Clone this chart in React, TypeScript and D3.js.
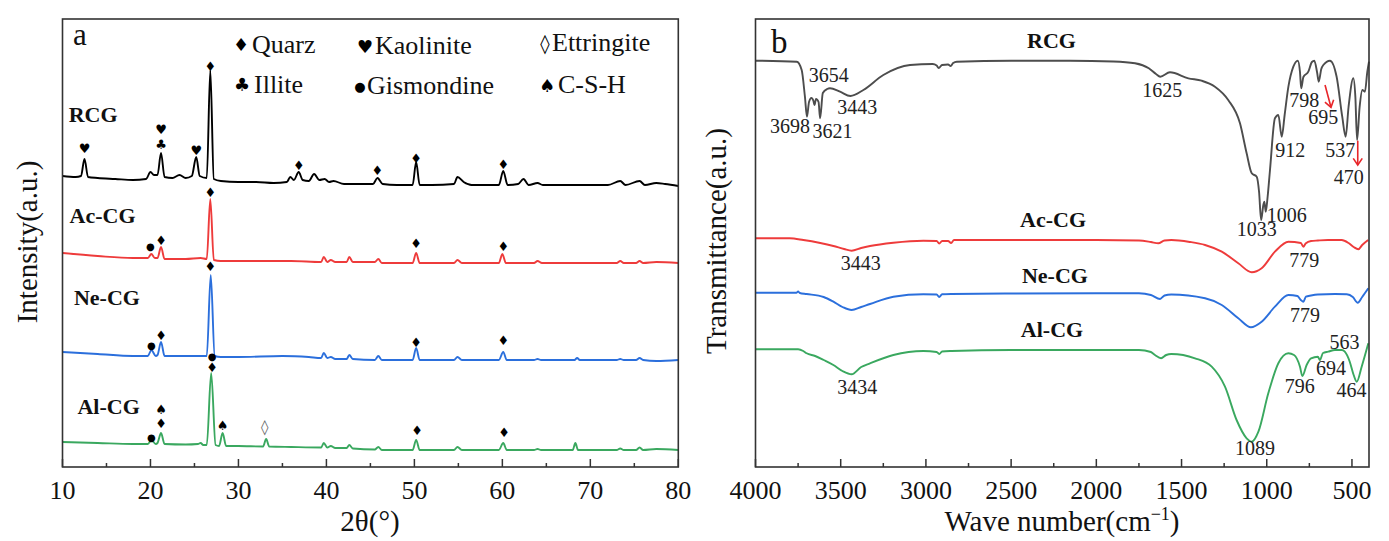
import React from 'react';
import * as d3 from 'd3';

type P = [number, number];

// ---------- XRD (panel a): [2θ, intensity a.u. incl. stacking offset] ----------
const xrdRCG: P[] = [[10, 291], [11.5, 290], [12.1, 291], [12.5, 308], [12.9, 290], [14, 289], [16, 288], [18, 287], [19.5, 288], [20.0, 295], [20.4, 292], [20.8, 292], [21.2, 314], [21.6, 290], [22.5, 289], [23.3, 292], [24.0, 289], [24.7, 291], [25.2, 310], [25.6, 291], [26.4, 289], [26.8, 397], [27.2, 288], [28, 286], [30, 285], [32, 285], [34, 284], [35.5, 285], [35.9, 290], [36.3, 287], [36.85, 295], [37.3, 287], [38.0, 286], [38.6, 293], [39.2, 287], [39.8, 288], [40.3, 285], [40.8, 286], [42, 283], [44, 283], [45.3, 283], [45.8, 289], [46.4, 283], [48, 282], [49.8, 282], [50.2, 305], [50.6, 282], [52, 282], [54.5, 283], [54.9, 290], [55.6, 285], [56.5, 282], [59.6, 282], [60.1, 296], [60.6, 282], [61.8, 283], [62.4, 288], [63, 282], [64, 284], [64.6, 282], [68, 282], [72, 282], [73.4, 286], [74, 282], [75.6, 286], [76.2, 282], [77.5, 284], [78.5, 283], [80, 281]];
const xrdAc: P[] = [[10, 214], [14, 211], [18, 209], [19.7, 209], [20.1, 213], [20.5, 209], [20.8, 209], [21.2, 220], [21.6, 208], [24, 208], [25.7, 209], [26.4, 208], [26.8, 268], [27.2, 207], [28, 206], [32, 206], [36, 206], [39.4, 205], [39.7, 210], [40.1, 205], [40.5, 207], [41, 205], [42.3, 205], [42.6, 210], [43, 205], [45.5, 205], [45.9, 208], [46.3, 204], [49.8, 204], [50.2, 214], [50.6, 204], [54.5, 204], [54.9, 207], [55.4, 204], [59.6, 204], [60.0, 213], [60.4, 204], [63.6, 204], [64, 206], [64.5, 204], [73.0, 204], [73.4, 206], [73.8, 204], [75.2, 204], [75.6, 206], [76, 204], [77.5, 205], [80, 204]];
const xrdNe: P[] = [[10, 115], [14, 113], [18, 111], [19.7, 111], [20.1, 117], [20.6, 111], [20.8, 112], [21.2, 125], [21.6, 111], [24, 111], [25.5, 111], [26.4, 111], [26.85, 192], [27.3, 111], [28, 110], [30, 110], [35, 111], [38, 110], [39.4, 109], [39.7, 114], [40.1, 109], [40.5, 110], [41, 108], [42.3, 108], [42.6, 112], [43, 108], [45.5, 107], [45.9, 111], [46.3, 107], [49.8, 107], [50.2, 119], [50.6, 107], [54.5, 107], [54.9, 110], [55.4, 107], [59.6, 107], [60.1, 115], [60.5, 107], [63.6, 107], [64, 108], [64.4, 107], [68.2, 107], [68.5, 109], [68.8, 107], [73, 107], [73.4, 108], [73.8, 107], [75.2, 107], [75.6, 109], [76, 107], [77.5, 106], [80, 107]];
const xrdAl: P[] = [[10, 25], [14, 24], [18, 23], [19.7, 23], [20.1, 27], [20.6, 23], [20.8, 24], [21.2, 34], [21.6, 23], [24, 22.5], [25.4, 23], [25.7, 24], [26.0, 22], [26.4, 22], [26.9, 94], [27.4, 22], [27.8, 21], [28.2, 34], [28.6, 21], [30, 21], [32.8, 20.5], [33.15, 28], [33.5, 20.5], [36, 20], [39.4, 19.5], [39.7, 24], [40.1, 19.5], [40.5, 21], [41, 19], [42.3, 19], [42.6, 22], [43, 18.5], [45.5, 17.5], [45.9, 20], [46.3, 17], [49.8, 17], [50.2, 27], [50.6, 17], [54.5, 17], [54.9, 20], [55.4, 17], [59.6, 17], [60.1, 24], [60.5, 17], [63.6, 17], [64, 18], [64.4, 17], [68.0, 17], [68.3, 24], [68.6, 17], [73, 17], [73.4, 18.5], [73.8, 17], [75.2, 17], [75.6, 19.5], [76, 17], [77.5, 18], [80, 17]];

const xrdNames = ['RCG', 'Ac-CG', 'Ne-CG', 'Al-CG'];
const xrdNameAt: P[] = [[10.7, 345], [10.8, 244], [11.3, 162], [11.7, 53]];

// phase markers: [2θ, value, symbol]
const xrdMarks: [number, number, string][] = [
  [12.5, 318.7, '♥'], [21.2, 337.5, '♥'], [21.2, 323, '♣'], [25.2, 317, '♥'], [26.8, 401, '♦'], [36.85, 302, '♦'], [45.8, 297, '♦'], [50.2, 308.7, '♦'], [60.1, 303, '♦'],
  [20.0, 221, '●'], [21.2, 226.3, '♦'], [26.8, 274.3, '♦'], [50.2, 223.7, '♦'], [60.1, 220.3, '♦'],
  [20.1, 122, '●'], [21.2, 132, '♦'], [26.8, 200.3, '♦'], [50.2, 124.7, '♦'], [60.1, 127, '♦'],
  [20.1, 29.3, '●'], [21.2, 43.5, '♦'], [21.2, 57.5, '♠'], [27.0, 110.8, '●'], [27.0, 99.5, '♦'], [28.2, 42, '♠'], [33.0, 40.3, '◊'], [50.3, 37, '♦'], [60.2, 34.7, '♦'],
];

const legendSyms = ['♦', '♥', '◊', '♣', '●', '♠'];
const legendNames = ['Quarz', 'Kaolinite', 'Ettringite', 'Illite', 'Gismondine', 'C-S-H'];

const xrdTicks = [10, 20, 30, 40, 50, 60, 70, 80];
const xrdMinor = [15, 25, 35, 45, 55, 65, 75];

// ---------- FTIR (panel b): [wavenumber, transmittance a.u. incl. offset] ----------
const ftirRCG: P[] = [[4000, 406.3], [3758, 405.3], [3729, 397], [3710, 370.3], [3698, 350.3], [3686, 365], [3672, 369], [3660, 366], [3654, 362], [3645, 368], [3630, 365], [3621, 348.7], [3605, 374], [3580, 378], [3563, 378.7], [3504, 375.3], [3443, 371], [3367, 377], [3250, 392], [3093, 402], [2960, 403], [2937, 401.5], [2925, 399], [2905, 402], [2870, 402.5], [2855, 401], [2840, 404], [2819, 405.3], [2500, 406.3], [2154, 406.3], [1900, 405.5], [1773, 403.7], [1692, 398.7], [1650, 393], [1625, 390.3], [1568, 394.7], [1460, 388.7], [1382, 386.3], [1304, 380.3], [1226, 367], [1157, 343.7], [1118, 313.7], [1088, 293.7], [1059, 290.3], [1045, 275], [1033, 247], [1020, 262], [1014, 265.3], [1006, 255.3], [995, 270], [981, 297], [952, 348.7], [932, 352], [912, 330.3], [895, 352], [873, 380.3], [844, 400.3], [818, 406.3], [805, 395], [798, 378.7], [785, 390], [756, 395.3], [735, 405], [721, 406.3], [705, 395], [695, 385.3], [680, 398], [668, 402], [629, 406.3], [590, 390.3], [557, 350.3], [537, 330.3], [520, 360], [492, 388.7], [480, 370], [470, 327], [455, 360], [439, 377], [424, 375.3], [410, 395], [400, 405.3]];
const ftirAc: P[] = [[4000, 228.7], [3800, 228.7], [3719, 227], [3620, 224], [3543, 221], [3480, 218], [3436, 216.3], [3380, 219], [3328, 221], [3191, 224.3], [3015, 226.3], [2937, 226], [2922, 223.5], [2905, 226], [2870, 226], [2852, 224], [2835, 227], [2500, 227], [2000, 227], [1750, 226.5], [1680, 225], [1636, 223.7], [1600, 226.5], [1560, 227], [1450, 225], [1362, 222], [1264, 215.3], [1167, 203.7], [1088, 194.7], [1030, 198.7], [952, 215.3], [873, 225.3], [800, 224], [785, 220.3], [772, 223.5], [740, 226], [700, 226.5], [640, 227], [560, 227], [520, 224], [490, 220], [463, 217.7], [440, 222], [405, 227]];
const ftirNe: P[] = [[4000, 174.3], [3760, 174.3], [3750, 175.5], [3740, 174], [3700, 173], [3600, 170], [3543, 165.3], [3490, 160], [3436, 157], [3380, 160], [3328, 163], [3191, 170.3], [3015, 172.7], [2937, 172.5], [2922, 170], [2905, 172.7], [2850, 173], [2500, 173.5], [2000, 173.7], [1750, 173.7], [1680, 172], [1626, 168], [1600, 171.5], [1560, 172.5], [1362, 168.7], [1264, 162], [1167, 148.7], [1093, 139.7], [1030, 145.3], [952, 160.3], [873, 172], [820, 171], [800, 167], [785, 165.3], [770, 170.3], [740, 171.5], [700, 172.5], [600, 173], [530, 172.7], [495, 170], [466, 164.3], [440, 170], [404, 178.7]];
const ftirAl: P[] = [[4000, 117.7], [3750, 117.7], [3720, 116], [3700, 113.7], [3650, 111], [3600, 107], [3543, 102], [3490, 96], [3436, 92.7], [3380, 100], [3328, 103.7], [3191, 112], [3015, 116], [2937, 115], [2922, 113], [2905, 115.5], [2850, 116], [2500, 117], [2000, 117], [1750, 117], [1680, 115], [1656, 112], [1620, 108.7], [1590, 112], [1560, 113], [1421, 108.7], [1323, 100.3], [1245, 80.3], [1177, 47], [1118, 28.7], [1088, 25.3], [1049, 35.3], [991, 73.7], [932, 103.7], [873, 113.7], [840, 112], [805, 100.3], [791, 91], [766, 102], [740, 108.7], [700, 110.3], [688, 107], [670, 114], [640, 115.3], [600, 117], [560, 117], [542, 115.3], [513, 105.3], [490, 92], [472, 85.3], [443, 100.3], [404, 123.7]];

const ftirNames = ['RCG', 'Ac-CG', 'Ne-CG', 'Al-CG'];
const ftirNameAt: P[] = [[2263, 419], [2254, 240], [2243, 184], [2260, 130]];

// band annotations: [label, wavenumber (centre), value (baseline)]
const ftirBands: [string, number, number][] = [
  ['3654', 3570, 384.7], ['3698', 3798, 333.7], ['3621', 3548, 328.7], ['3443', 3403, 353],
  ['1625', 1613, 370.3], ['912', 862, 310.3], ['798', 780, 360.3], ['695', 668, 343],
  ['537', 568, 310.3], ['470', 519, 283], ['1006', 883, 245.3], ['1033', 1059, 231],
  ['3443', 3383, 197], ['779', 780, 200.3], ['779', 775, 145.3],
  ['3434', 3403, 73], ['1089', 1069, 12], ['796', 807, 74.3], ['694', 623, 92], ['563', 544, 117.7], ['464', 502, 70.3],
];
// red arrows: [wn start, value start, wn end, value end]
const ftirArrows: [number, number, number, number][] = [[658, 382, 623, 359.7], [466, 326.3, 466, 302]];

const ftirTicks = [4000, 3500, 3000, 2500, 2000, 1500, 1000, 500];
const ftirMinor = [3750, 3250, 2750, 2250, 1750, 1250, 750];

const COLORS = ['#000000', '#ee3b3b', '#2b6fdc', '#3aa85f'];
const COLORS_R = ['#4d4d4d', '#ee3b3b', '#2b6fdc', '#3aa85f'];

const SERIF = '"Liberation Serif", "Times New Roman", serif';
const SYMF = '"DejaVu Sans", sans-serif';

export default function App() {
  const W = 1389, H = 541;
  const top = 19, bottom = 467;
  const xL = d3.scaleLinear().domain([10, 80]).range([62.5, 678.3]);
  const xR = d3.scaleLinear().domain([4000, 400]).range([755.5, 1369]);
  const y = d3.scaleLinear().domain([0, 448]).range([bottom, top]);
  const lineL = d3.line<P>().x(d => xL(d[0])).y(d => y(d[1])).curve(d3.curveMonotoneX);
  const lineR = d3.line<P>().x(d => xR(d[0])).y(d => y(d[1])).curve(d3.curveMonotoneX);
  const xrd = [xrdRCG, xrdAc, xrdNe, xrdAl];
  const ftir = [ftirRCG, ftirAc, ftirNe, ftirAl];

  const symSize = (s: string) => (s === '●' ? 10 : s === '◊' ? 15 : 13);

  const legendPos: [number, number, number][] = [
    [241, 252, 52.7], [365, 375, 54], [545, 552, 50.7],
    [242, 254, 92.7], [360, 367, 94], [547, 558, 93.3],
  ];

  const arrow = (a: [number, number, number, number], i: number) => {
    const x1 = xR(a[0]), y1 = y(a[1]), x2 = xR(a[2]), y2 = y(a[3]);
    const ang = Math.atan2(y2 - y1, x2 - x1);
    const L = 8, sp = 0.6;
    const p1 = [x2 - L * Math.cos(ang - sp), y2 - L * Math.sin(ang - sp)];
    const p2 = [x2 - L * Math.cos(ang + sp), y2 - L * Math.sin(ang + sp)];
    return (
      <g key={'ar' + i} stroke="#e8262a" strokeWidth={1.6} fill="none">
        <line x1={x1} y1={y1} x2={x2} y2={y2} />
        <polyline points={`${p1[0]},${p1[1]} ${x2},${y2} ${p2[0]},${p2[1]}`} />
      </g>
    );
  };

  return (
    <svg width={W} height={H} style={{ position: 'absolute', left: 0, top: 0, background: '#fff' }} fontFamily={SERIF}>
      <rect width={W} height={H} fill="#fff" />
      {/* ---------- panel a ---------- */}
      <g>
        {xrd.map((d, i) => (
          <path key={'xl' + i} d={lineL(d) || ''} fill="none" stroke={COLORS[i]} strokeWidth={1.9} strokeLinejoin="round" />
        ))}
        {xrdMarks.map((m, i) => (
          <text key={'mk' + i} x={xL(m[0])} y={y(m[1])} fontFamily={SYMF} fontSize={symSize(m[2])} textAnchor="middle" dominantBaseline="central" fill={m[2] === '◊' ? '#666' : '#000'}>{m[2]}</text>
        ))}
        {xrdNames.map((n, i) => (
          <text key={'xn' + i} x={xL(xrdNameAt[i][0])} y={y(xrdNameAt[i][1])} fontSize={22} fontWeight="bold" fill="#111">{n}</text>
        ))}
        {legendNames.map((n, i) => (
          <g key={'lg' + i}>
            <text x={legendPos[i][0]} y={legendPos[i][2] - 8} fontFamily={SYMF} fontSize={legendSyms[i] === '●' ? 13 : legendSyms[i] === '◊' ? 19 : 18} textAnchor="middle" dominantBaseline="central" fill="#000">{legendSyms[i]}</text>
            <text x={legendPos[i][1]} y={legendPos[i][2]} fontSize={26} fill="#111">{n}</text>
          </g>
        ))}
        <text x={73} y={45} fontSize={31} fill="#111">a</text>
        <rect x={xL(10)} y={top} width={xL(80) - xL(10)} height={bottom - top} fill="none" stroke="#333" strokeWidth={1.6} />
        {xrdTicks.map(t => (
          <g key={'tl' + t}>
            <line x1={xL(t)} x2={xL(t)} y1={bottom} y2={bottom - 8} stroke="#333" strokeWidth={1.5} />
            <text x={xL(t)} y={499} fontSize={26} textAnchor="middle" fill="#111">{t}</text>
          </g>
        ))}
        {xrdMinor.map(t => (
          <line key={'ml' + t} x1={xL(t)} x2={xL(t)} y1={bottom} y2={bottom - 4} stroke="#333" strokeWidth={1.5} />
        ))}
        <text x={370} y={531} fontSize={29} textAnchor="middle" fill="#111">2θ(°)</text>
        <text transform="translate(37,242) rotate(-90)" fontSize={29} textAnchor="middle" fill="#111">Intensity(a.u.)</text>
      </g>
      {/* ---------- panel b ---------- */}
      <g>
        {ftir.map((d, i) => (
          <path key={'fr' + i} d={lineR(d) || ''} fill="none" stroke={COLORS_R[i]} strokeWidth={1.9} strokeLinejoin="round" />
        ))}
        {ftirNames.map((n, i) => (
          <text key={'fn' + i} x={xR(ftirNameAt[i][0])} y={y(ftirNameAt[i][1])} fontSize={22} fontWeight="bold" textAnchor="middle" fill="#111">{n}</text>
        ))}
        {ftirBands.map((b, i) => (
          <text key={'fb' + i} x={xR(b[1])} y={y(b[2])} fontSize={20} textAnchor="middle" fill="#222">{b[0]}</text>
        ))}
        {ftirArrows.map(arrow)}
        <text x={771} y={53} fontSize={33} fill="#111">b</text>
        <rect x={xR(4000)} y={top} width={xR(400) - xR(4000)} height={bottom - top} fill="none" stroke="#333" strokeWidth={1.6} />
        {ftirTicks.map(t => (
          <g key={'tr' + t}>
            <line x1={xR(t)} x2={xR(t)} y1={bottom} y2={bottom - 8} stroke="#333" strokeWidth={1.5} />
            <text x={xR(t)} y={499} fontSize={26} textAnchor="middle" fill="#111">{t}</text>
          </g>
        ))}
        {ftirMinor.map(t => (
          <line key={'mr' + t} x1={xR(t)} x2={xR(t)} y1={bottom} y2={bottom - 4} stroke="#333" strokeWidth={1.5} />
        ))}
        <text x={1062} y={531} fontSize={29} textAnchor="middle" fill="#111">
          Wave number(cm<tspan fontSize={18} dy={-11}>−1</tspan><tspan dy={11}>)</tspan>
        </text>
        <text transform="translate(726,241) rotate(-90)" fontSize={29} textAnchor="middle" fill="#111">Transmittance(a.u.)</text>
      </g>
    </svg>
  );
}
